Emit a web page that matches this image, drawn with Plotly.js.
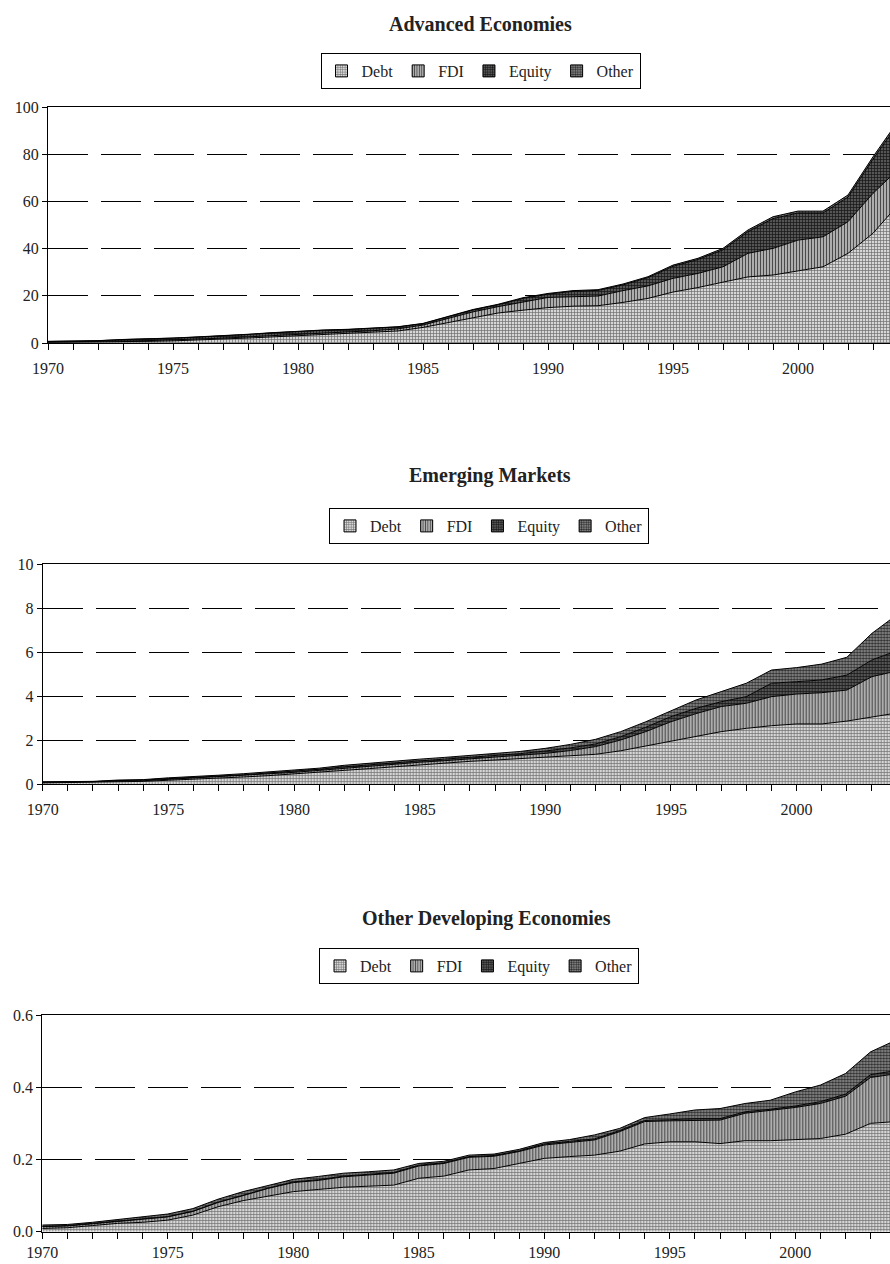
<!DOCTYPE html>
<html>
<head>
<meta charset="utf-8">
<script src="https://cdn.plot.ly/plotly-3.0.1.min.js"></script>
<style>html,body{margin:0;padding:0;background:#fff;}#chart{width:890px;height:1264px;}</style>
</head>
<body>
<div id="chart"></div>
<script>
// ---- Data ----
const years = [1970,1971,1972,1973,1974,1975,1976,1977,1978,1979,
               1980,1981,1982,1983,1984,1985,1986,1987,1988,1989,
               1990,1991,1992,1993,1994,1995,1996,1997,1998,1999,
               2000,2001,2002,2003,2004];

const seriesNames = ["Debt", "FDI", "Equity", "Other"];

// Advanced Economies
const debtA   = [0.3,0.35,0.4,0.6,0.7,0.9,1.2,1.6,2.1,2.6, 3.1,3.5,3.9,4.4,5.1,6.6,8.7,10.9,12.7,13.9, 15.0,15.6,15.8,17.2,18.9,21.6,23.5,25.8,28.0,28.8, 30.6,32.3,38.0,46.5,58.5];
const fdiA    = [0.15,0.15,0.2,0.25,0.3,0.35,0.4,0.45,0.5,0.6, 0.7,0.8,0.8,0.8,0.9,1.0,1.6,2.3,2.7,3.6, 4.3,4.0,4.1,5.0,5.3,5.8,6.0,6.5,10.0,11.3, 13.0,12.7,13.4,16.9,15.0];
const equityA = [0.2,0.25,0.35,0.6,0.65,0.8,0.9,0.85,1.0,1.1, 1.1,1.1,1.0,1.0,0.8,0.6,0.7,0.8,0.8,1.4, 1.4,2.3,2.4,2.4,3.5,5.1,5.9,7.2,9.2,12.6, 11.5,10.1,10.4,14.5,19.3];
const otherA  = [0.05,0.05,0.05,0.05,0.05,0.05,0.1,0.1,0.1,0.1, 0.1,0.1,0.1,0.1,0.1,0.1,0.2,0.2,0.2,0.3, 0.3,0.3,0.3,0.4,0.4,0.5,0.5,0.6,0.7,0.8, 0.8,0.8,0.9,1.0,1.2];

// Emerging Markets
const debtE   = [0.05,0.06,0.07,0.1,0.12,0.17,0.21,0.26,0.32,0.38, 0.45,0.53,0.62,0.7,0.79,0.88,0.97,1.03,1.09,1.15, 1.21,1.28,1.35,1.51,1.73,1.96,2.18,2.38,2.53,2.65, 2.73,2.73,2.86,3.06,3.23];
const fdiE    = [0.02,0.02,0.02,0.03,0.03,0.04,0.05,0.06,0.06,0.08, 0.08,0.09,0.10,0.12,0.13,0.11,0.09,0.11,0.13,0.15, 0.18,0.24,0.35,0.49,0.65,0.87,1.02,1.14,1.14,1.32, 1.36,1.42,1.41,1.82,1.91];
const equityE = [0.015,0.01,0.015,0.025,0.025,0.035,0.03,0.04,0.04,0.04, 0.05,0.05,0.06,0.06,0.06,0.06,0.07,0.07,0.07,0.08, 0.11,0.12,0.12,0.15,0.2,0.23,0.24,0.22,0.3,0.61, 0.56,0.58,0.68,0.76,0.92];
const otherE  = [0.015,0.01,0.015,0.025,0.025,0.035,0.04,0.04,0.05,0.05, 0.05,0.05,0.07,0.07,0.07,0.08,0.08,0.09,0.09,0.1, 0.12,0.16,0.21,0.23,0.25,0.26,0.38,0.46,0.61,0.6, 0.64,0.72,0.81,1.21,1.64];

// Other Developing Economies
const debtO   = [0.009,0.011,0.017,0.023,0.026,0.032,0.046,0.069,0.086,0.099, 0.111,0.117,0.123,0.126,0.129,0.148,0.154,0.171,0.175,0.189, 0.203,0.208,0.212,0.223,0.243,0.249,0.249,0.244,0.252,0.252, 0.254,0.258,0.27,0.30,0.305];
const fdiO    = [0.005,0.005,0.005,0.006,0.008,0.009,0.01,0.012,0.014,0.021, 0.025,0.025,0.029,0.031,0.033,0.034,0.035,0.035,0.034,0.033, 0.037,0.039,0.042,0.054,0.062,0.058,0.06,0.065,0.076,0.083, 0.09,0.097,0.105,0.127,0.132];
const equityO = [0.001,0.001,0.001,0.001,0.001,0.001,0.001,0.001,0.001,0.001, 0.002,0.002,0.002,0.002,0.002,0.002,0.002,0.002,0.002,0.002, 0.003,0.003,0.003,0.003,0.003,0.003,0.004,0.004,0.004,0.004, 0.004,0.005,0.006,0.008,0.009];
const otherO  = [0.0035,0.003,0.003,0.004,0.006,0.007,0.007,0.008,0.01,0.008, 0.007,0.009,0.008,0.007,0.007,0.005,0.004,0.004,0.004,0.004, 0.004,0.005,0.011,0.006,0.008,0.016,0.024,0.028,0.023,0.025, 0.039,0.046,0.057,0.063,0.084];

const panelTitles = ["Advanced Economies", "Emerging Markets", "Other Developing Economies"];

// ---- Styling ----
const W = 890, H = 1264;
const SERIF = "Liberation Serif, Times New Roman, serif";
const TXT = "#222";
const patterns = {
  Debt:   {shape: "+", bgcolor: "#d6d6d6", fgcolor: "#6e6e6e", size: 3, solidity: 0.4},
  FDI:    {shape: "|", bgcolor: "#c2c2c2", fgcolor: "#4a4a4a", size: 3, solidity: 0.45},
  Equity: {shape: "+", bgcolor: "#555555", fgcolor: "#141414", size: 3, solidity: 0.4},
  Other:  {shape: ".", bgcolor: "#939393", fgcolor: "#2c2c2c", size: 3, solidity: 0.5}
};

const panels = [
  {data: [debtA, fdiA, equityA, otherA], left: 48,   top: 107,  bottom: 343,    yMax: 100, dtick: 20,  fmt: "",    standoff: 5, title: {x: 480, y: 23.5}, legend: {x: 480.5, y: 53}},
  {data: [debtE, fdiE, equityE, otherE], left: 42.7, top: 564,  bottom: 784,    yMax: 10,  dtick: 2,   fmt: "",    standoff: 5, title: {x: 490, y: 475},  legend: {x: 489,   y: 508}},
  {data: [debtO, fdiO, equityO, otherO], left: 42.3, top: 1015, bottom: 1231.7, yMax: 0.6, dtick: 0.2, fmt: ".1f", standoff: 0, title: {x: 486, y: 918},  legend: {x: 479,   y: 948}}
];
const pxPerYear = [25, 25.13, 25.1];

const traces = [];
const layout = {
  width: W, height: H,
  margin: {l: 0, r: 0, t: 0, b: 0},
  paper_bgcolor: "#fff", plot_bgcolor: "#fff",
  showlegend: true,
  hovermode: false,
  annotations: []
};

panels.forEach((p, i) => {
  const n = i === 0 ? "" : String(i + 1);
  const xa = "x" + n, ya = "y" + n;
  const lg = "legend" + n;
  p.data.forEach((vals, k) => {
    const name = seriesNames[k];
    traces.push({
      type: "scatter", mode: "lines", x: years, y: vals,
      xaxis: xa, yaxis: ya, stackgroup: "g" + i,
      name: name, showlegend: false,
      line: {color: "#000", width: 1, shape: "linear"},
      fillcolor: patterns[name].bgcolor,
      fillpattern: Object.assign({fillmode: "replace"}, patterns[name])
    });
  });
  // legend entries (square patterned swatches)
  seriesNames.forEach(name => {
    traces.push({
      type: "bar", x: [years[0]], y: [null], xaxis: xa, yaxis: ya,
      name: name, legend: lg, showlegend: true,
      marker: {color: patterns[name].bgcolor, pattern: Object.assign({fillmode: "replace"}, patterns[name]),
               line: {color: "#000", width: 1}}
    });
  });
  const xEnd = 1970 + (W - p.left) / pxPerYear[i];
  layout["xaxis" + n] = {
    domain: [p.left / W, 1], anchor: ya,
    range: [1970, xEnd], tick0: 1970, dtick: 5,
    ticks: "outside", ticklen: 6, tickcolor: "#000", tickwidth: 1,
    minor: {dtick: 1, tick0: 1970, ticks: "outside", ticklen: 6, tickcolor: "#000", tickwidth: 1, showgrid: false},
    showline: true, linecolor: "#000", linewidth: 1, mirror: true,
    showgrid: false, zeroline: false,
    tickfont: {family: SERIF, size: 16, color: TXT},
    ticklabelstandoff: p.standoff,
    fixedrange: true
  };
  layout["yaxis" + n] = {
    domain: [1 - p.bottom / H, 1 - p.top / H], anchor: xa,
    range: [0, p.yMax], tick0: 0, dtick: p.dtick, tickformat: p.fmt,
    ticks: "outside", ticklen: 5, tickcolor: "#000", tickwidth: 1,
    showline: true, linecolor: "#000", linewidth: 1,
    showgrid: true, gridcolor: "#000", gridwidth: 1, griddash: "40px,13px",
    zeroline: false,
    tickfont: {family: SERIF, size: 16, color: TXT},
    fixedrange: true
  };
  layout[lg] = {
    orientation: "h",
    x: p.legend.x / W, xanchor: "center",
    y: 1 - p.legend.y / H, yanchor: "top",
    bordercolor: "#000", borderwidth: 1, bgcolor: "#fff",
    font: {family: SERIF, size: 16, color: TXT},
    traceorder: "normal", itemclick: false, itemdoubleclick: false
  };
  layout.annotations.push({
    xref: "paper", yref: "paper",
    x: p.title.x / W, y: 1 - p.title.y / H,
    xanchor: "center", yanchor: "middle",
    text: "<b>" + panelTitles[i] + "</b>", showarrow: false,
    font: {family: SERIF, size: 20, color: TXT}
  });
});

Plotly.newPlot("chart", traces, layout, {staticPlot: true, displayModeBar: false});
</script>
</body>
</html>
